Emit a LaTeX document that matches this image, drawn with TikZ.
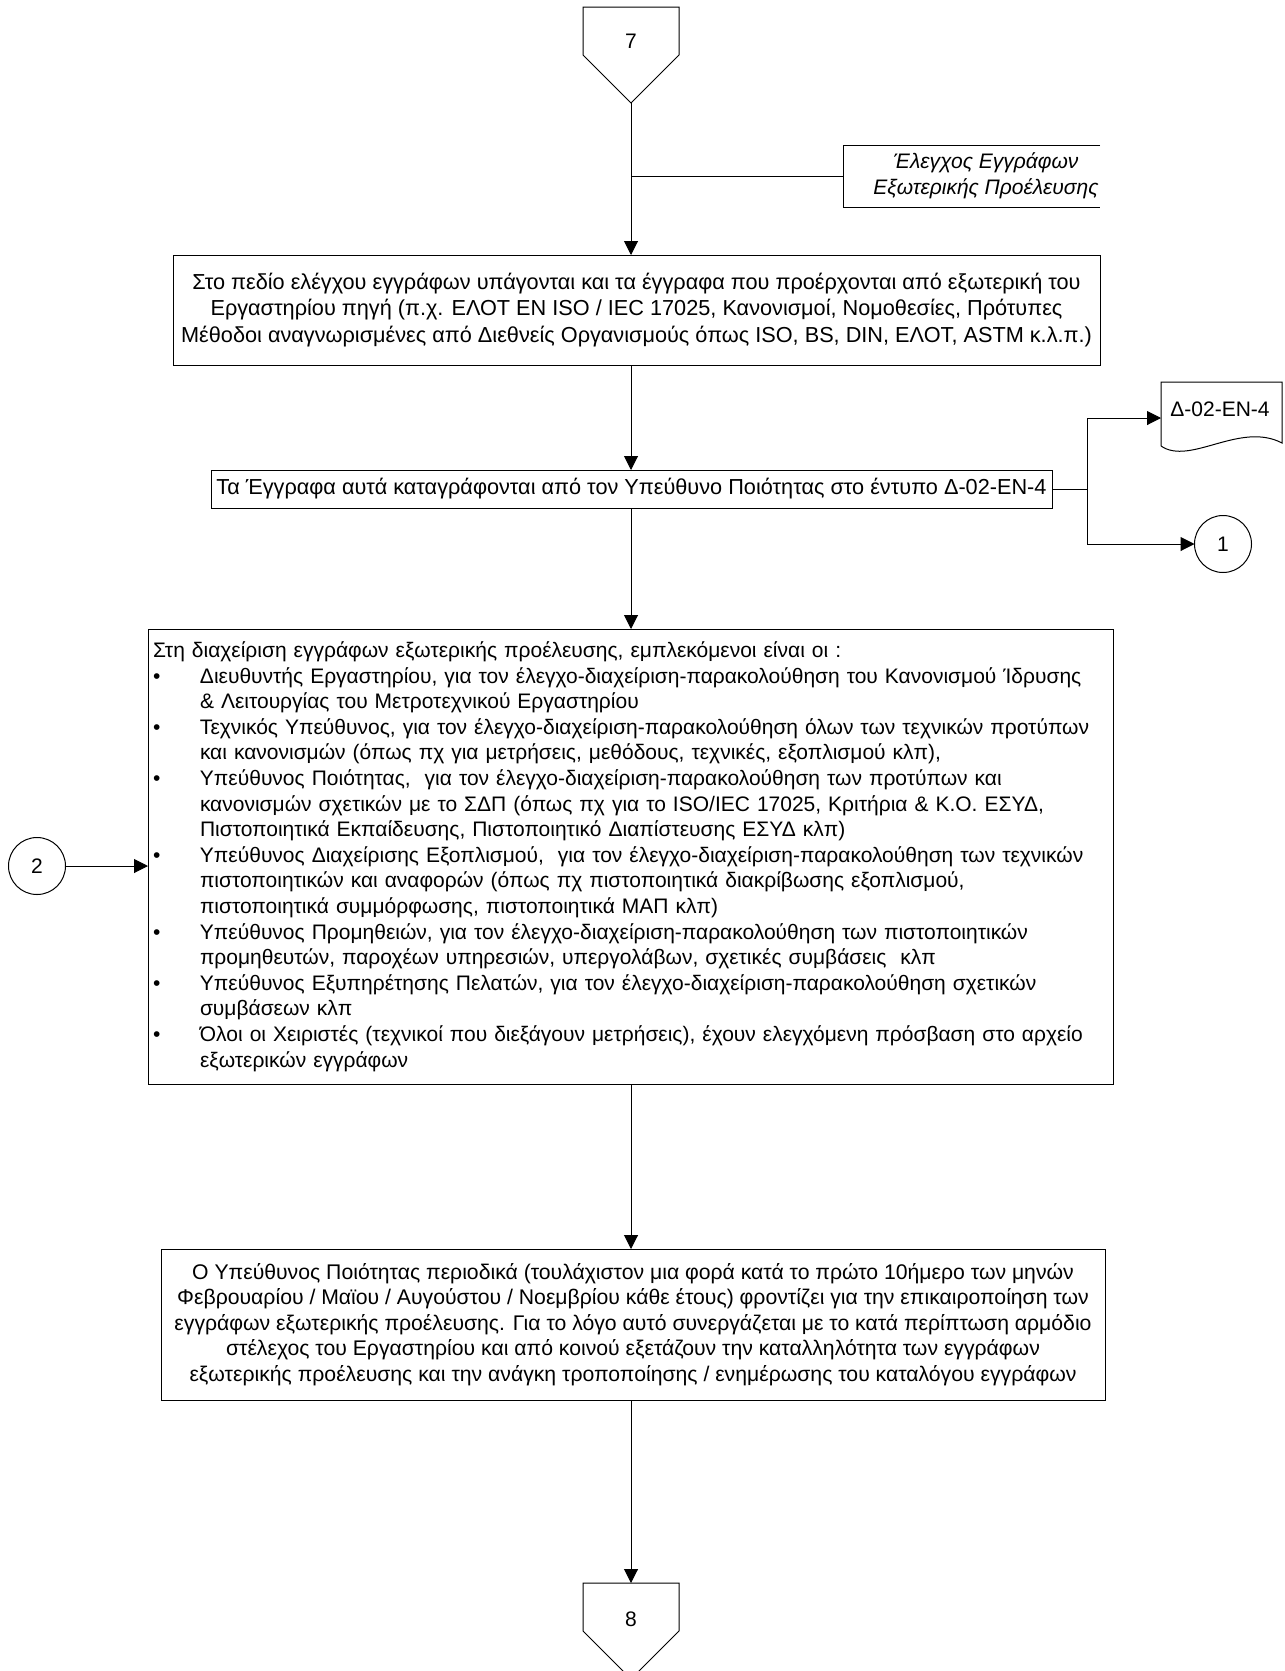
\documentclass[tikz,border=0pt]{standalone}
\usepackage{fontspec}
\setmainfont{Liberation Sans}
\usetikzlibrary{arrows.meta}

% text sizes used in the chart
\newcommand\flowfont{\fontsize{21pt}{25.6pt}\selectfont}
\newcommand\widefont{\fontsize{21.7pt}{26.4pt}\selectfont}
% bullet and hanging indent for the list of responsibilities
\newcommand\itemdot{\makebox[47pt][l]{•}}
\newcommand\itemgap{\hspace*{47pt}}

\begin{document}
\begin{tikzpicture}[x=1pt,y=-1pt,
  flow/.style={line width=1pt, draw=black},
  arr/.style={flow, -{Triangle[length=14pt,width=14pt]}},
  pad/.style={draw=none, inner sep=0pt, outer sep=0pt},
  proc/.style={draw, line width=1pt, inner sep=0pt, outer sep=0pt, align=center, font=\flowfont},
  conn/.style={draw, line width=1pt, circle, minimum size=57pt, inner sep=0pt, outer sep=0pt, font=\flowfont},
  label/.style={inner sep=0pt, font=\flowfont}]

\useasboundingbox (0,0) rectangle (1285,1671);

% off-page connector 7
\node[pad, minimum width=96pt, minimum height=96pt] (c7) at (631,55) {};
\draw[flow] (c7.north west) -- (c7.north east) -- (c7.east) -- (c7.south) -- (c7.west) -- cycle;
\node[label] (c7t) at (631,41) {7};

% annotation bracket
\node[pad, minimum width=257pt, minimum height=62pt] (annbox) at (971.5,176) {};
\draw[flow] (annbox.north east) -- (annbox.north west) -- (annbox.south west) -- (annbox.south east);
\node[label, font=\flowfont\itshape, align=center] (anntext) at (986,176) {Έλεγχος Εγγράφων\\Εξωτερικής Προέλευσης};
\draw[flow] (c7.south |- annbox.west) -- (annbox.west);

% process boxes
\node[proc, font=\widefont, minimum width=927pt, minimum height=110pt] (b1) at (636.5,310)
  {Στο πεδίο ελέγχου εγγράφων υπάγονται και τα έγγραφα που προέρχονται από εξωτερική του\\
   Εργαστηρίου πηγή (π.χ. ΕΛΟΤ ΕΝ ISO / IEC 17025, Κανονισμοί, Νομοθεσίες, Πρότυπες\\
   Μέθοδοι αναγνωρισμένες από Διεθνείς Οργανισμούς όπως ISO, BS, DIN, ΕΛΟΤ, ASTM κ.λ.π.)};

\node[proc, font=\widefont, minimum width=841pt, minimum height=38pt] (b2) at (631.5,489)
  {Τα Έγγραφα αυτά καταγράφονται από τον Υπεύθυνο Ποιότητας στο έντυπο Δ-02-EN-4};

\node[proc, minimum width=965pt, minimum height=455pt, text width=955pt, align=left] (b3) at (630.5,856.5)
  {Στη διαχείριση εγγράφων εξωτερικής προέλευσης, εμπλεκόμενοι είναι οι :\\
   \itemdot Διευθυντής Εργαστηρίου, για τον έλεγχο-διαχείριση-παρακολούθηση του Κανονισμού Ίδρυσης\\
   \itemgap \& Λειτουργίας του Μετροτεχνικού Εργαστηρίου\\
   \itemdot Τεχνικός Υπεύθυνος, για τον έλεγχο-διαχείριση-παρακολούθηση όλων των τεχνικών προτύπων\\
   \itemgap και κανονισμών (όπως πχ για μετρήσεις, μεθόδους, τεχνικές, εξοπλισμού κλπ),\\
   \itemdot Υπεύθυνος Ποιότητας,~ για τον έλεγχο-διαχείριση-παρακολούθηση των προτύπων και\\
   \itemgap κανονισμών σχετικών με το ΣΔΠ (όπως πχ για το ISO/IEC 17025, Κριτήρια \& Κ.Ο. ΕΣΥΔ,\\
   \itemgap Πιστοποιητικά Εκπαίδευσης, Πιστοποιητικό Διαπίστευσης ΕΣΥΔ κλπ)\\
   \itemdot Υπεύθυνος Διαχείρισης Εξοπλισμού,~ για τον έλεγχο-διαχείριση-παρακολούθηση των τεχνικών\\
   \itemgap πιστοποιητικών και αναφορών (όπως πχ πιστοποιητικά διακρίβωσης εξοπλισμού,\\
   \itemgap πιστοποιητικά συμμόρφωσης, πιστοποιητικά ΜΑΠ κλπ)\\
   \itemdot Υπεύθυνος Προμηθειών, για τον έλεγχο-διαχείριση-παρακολούθηση των πιστοποιητικών\\
   \itemgap προμηθευτών, παροχέων υπηρεσιών, υπεργολάβων, σχετικές συμβάσεις~ κλπ\\
   \itemdot Υπεύθυνος Εξυπηρέτησης Πελατών, για τον έλεγχο-διαχείριση-παρακολούθηση σχετικών\\
   \itemgap συμβάσεων κλπ\\
   \itemdot Όλοι οι Χειριστές (τεχνικοί που διεξάγουν μετρήσεις), έχουν ελεγχόμενη πρόσβαση στο αρχείο\\
   \itemgap εξωτερικών εγγράφων};

\node[proc, font=\fontsize{21.2pt}{25.6pt}\selectfont, minimum width=944pt, minimum height=151pt] (b4) at (633,1324.5)
  {Ο Υπεύθυνος Ποιότητας περιοδικά (τουλάχιστον μια φορά κατά το πρώτο 10ήμερο των μηνών\\
   Φεβρουαρίου / Μαϊου / Αυγούστου / Νοεμβρίου κάθε έτους) φροντίζει για την επικαιροποίηση των\\
   εγγράφων εξωτερικής προέλευσης. Για το λόγο αυτό συνεργάζεται με το κατά περίπτωση αρμόδιο\\
   στέλεχος του Εργαστηρίου και από κοινού εξετάζουν την καταλληλότητα των εγγράφων\\
   εξωτερικής προέλευσης και την ανάγκη τροποποίησης / ενημέρωσης του καταλόγου εγγράφων};

% off-page connector 8
\node[pad, minimum width=96pt, minimum height=96pt] (c8) at (631,1631) {};
\draw[flow] (c8.north west) -- (c8.north east) -- (c8.east) -- (c8.south) -- (c8.west) -- cycle;
\node[label] (c8t) at (631,1619) {8};

% document symbol
\node[pad, minimum width=121pt, minimum height=72pt] (doc) at (1221.5,418) {};
\draw[flow] (1161,446) -- (1161,382) -- (1282,382) -- (1282,443)
  .. controls (1240,421) and (1190,466) .. (1161,446);
\node[label] (doctext) at (1220,409) {Δ-02-EN-4};

% on-page connectors
\node[conn] (c1) at (1223,544) {1};
\node[conn] (c2) at (37,866) {2};

% main flow
\draw[arr] (c7.south) -- (c7.south |- b1.north);
\draw[arr] (b1.south -| c7.south) -- (b2.north -| c7.south);
\draw[arr] (b2.south -| c7.south) -- (b3.north -| c7.south);
\draw[arr] (b3.south -| c7.south) -- (b4.north -| c7.south);
\draw[arr] (b4.south -| c7.south) -- (c8.north);

% branch to the form and to connector 1
\coordinate (split) at (1087,489);
\draw[flow] (b2.east) -- (split);
\draw[arr] (split) |- (doc.west);
\draw[arr] (split) |- (c1.west);

% entry from connector 2
\draw[arr] (c2.east) -- (c2.east -| b3.west);

\end{tikzpicture}
\end{document}
